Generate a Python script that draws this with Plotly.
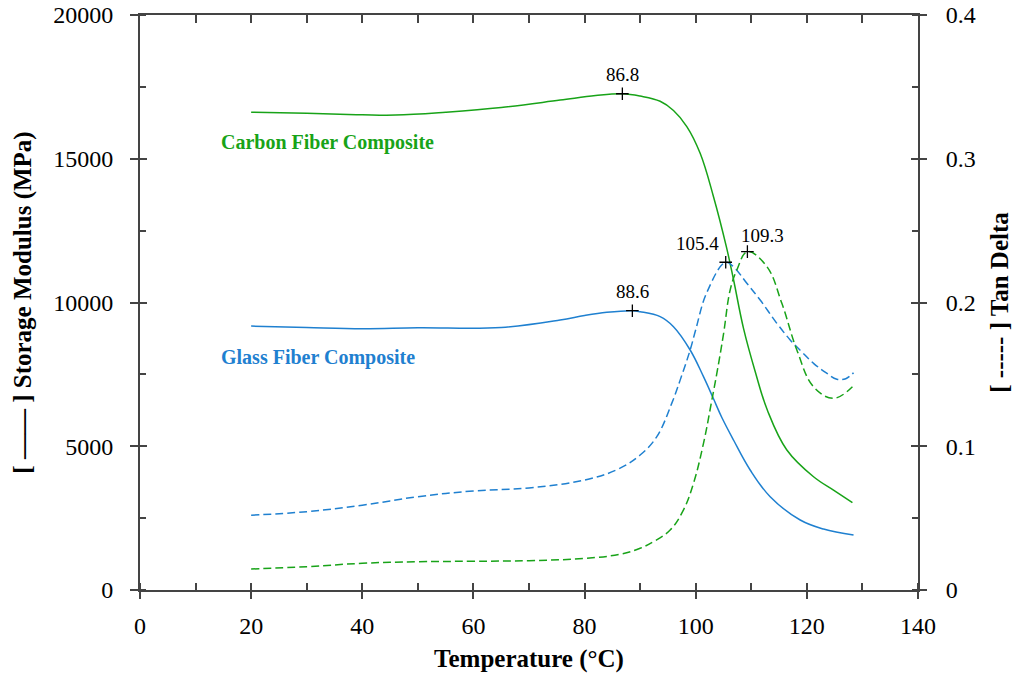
import plotly.graph_objects as go

# ---------------- data ----------------
T_cf_E = [20, 30, 40, 46, 55, 65, 75.6, 82, 86.8, 90, 93.6, 96, 98.4, 100.8, 103.2, 105.5, 106.8, 108.6, 110.7, 112.9, 116.4, 121.2, 125, 128.2]
E_cf = [16620, 16580, 16530, 16520, 16620, 16780, 17040, 17200, 17260, 17180, 17000, 16680, 16120, 15190, 13680, 11950, 10800, 9100, 7600, 6250, 4870, 3940, 3450, 3040]

T_gf_E = [20, 30, 40, 50, 65, 75.6, 80, 84, 88.6, 90, 93.6, 96, 99, 101.4, 103.2, 104.7, 106.8, 109.8, 113.4, 118.8, 123, 128.4]
E_gf = [9180, 9130, 9090, 9120, 9130, 9390, 9550, 9660, 9715, 9680, 9507, 9158, 8348, 7420, 6650, 6000, 5217, 4174, 3245, 2435, 2120, 1913]

T_gf_tan = [20, 30, 40, 50, 60, 70, 80, 86, 90, 93, 95.7, 97.2, 99, 100, 102, 105.4, 107, 109.2, 111.6, 114.6, 117, 119, 121.2, 123.5, 125.4, 127, 128.4]
tan_gf = [0.0520, 0.0545, 0.0590, 0.0649, 0.0689, 0.0710, 0.0765, 0.0840, 0.0939, 0.1067, 0.1300, 0.1460, 0.1670, 0.1810, 0.2070, 0.2280, 0.2240, 0.2134, 0.2017, 0.1855, 0.1740, 0.1660, 0.1577, 0.1510, 0.1466, 0.1470, 0.1512]

T_cf_tan = [20, 30, 40, 50, 60, 70, 80, 86.3, 90, 92.4, 95.4, 97.8, 99.6, 101.4, 102.9, 103.8, 105, 106.2, 107.4, 109.3, 112.8, 115.5, 118.2, 121.2, 124.8, 128.2]
tan_cf = [0.0146, 0.0162, 0.0186, 0.0197, 0.0200, 0.0204, 0.0220, 0.0248, 0.0290, 0.0336, 0.0417, 0.0557, 0.0742, 0.1020, 0.1320, 0.1507, 0.1780, 0.2087, 0.2226, 0.2354, 0.2250, 0.1994, 0.1670, 0.1414, 0.1333, 0.1414]

peak_E_T = [86.8, 88.6]
peak_E_val = [17260, 9715]
peak_tan_T = [105.4, 109.3]
peak_tan_val = [0.2280, 0.2354]
peak_E_labels = ["86.8", "88.6"]
peak_tan_labels = ["105.4", "109.3"]

x_ticks = [0, 20, 40, 60, 80, 100, 120, 140]
y_ticks = [0, 5000, 10000, 15000, 20000]
y_ticktext = ["0", "5000", "10000", "15000", "20000"]
y2_ticks = [0, 0.1, 0.2, 0.3, 0.4]
y2_ticktext = ["0", "0.1", "0.2", "0.3", "0.4"]

GREEN = "#18a318"
BLUE = "#1f80d0"
AX = "#444444"
FONT = "Liberation Serif"

fig = go.Figure()

def line(x, y, color, yaxis, dash=None):
    ln = dict(color=color, width=1.5, shape="spline", smoothing=1.1)
    if dash:
        ln["dash"] = dash
    return go.Scatter(x=x, y=y, mode="lines", line=ln, yaxis=yaxis, showlegend=False, hoverinfo="skip")

fig.add_trace(line(T_cf_E, E_cf, GREEN, "y"))
fig.add_trace(line(T_gf_E, E_gf, BLUE, "y"))
fig.add_trace(line(T_gf_tan, tan_gf, BLUE, "y2", "8px,4px"))
fig.add_trace(line(T_cf_tan, tan_cf, GREEN, "y2", "8px,4px"))

# invisible copies so that the tick-only overlay axes get drawn
fig.add_trace(go.Scatter(x=T_cf_E, y=E_cf, xaxis="x3", yaxis="y3", mode="lines", opacity=0,
                         line=dict(width=0), showlegend=False, hoverinfo="skip"))
fig.add_trace(go.Scatter(x=T_gf_tan, y=tan_gf, xaxis="x4", yaxis="y4", mode="lines", opacity=0,
                         line=dict(width=0), showlegend=False, hoverinfo="skip"))

# peak markers
fig.add_trace(go.Scatter(x=peak_E_T, y=peak_E_val, mode="markers",
                         marker=dict(symbol="cross-thin", size=9, line=dict(color="black", width=1.3)),
                         yaxis="y", showlegend=False, hoverinfo="skip"))
fig.add_trace(go.Scatter(x=peak_tan_T, y=peak_tan_val, mode="markers",
                         marker=dict(symbol="cross-thin", size=9, line=dict(color="black", width=1.3)),
                         yaxis="y2", showlegend=False, hoverinfo="skip"))

LBL = dict(family=FONT, size=19, color="black")
annotations = []
for t, v, lab in zip(peak_E_T, peak_E_val, peak_E_labels):
    annotations.append(dict(x=t, y=v, xref="x", yref="y", text=lab, showarrow=False, yshift=19, font=LBL))
annotations.append(dict(x=peak_tan_T[0], y=peak_tan_val[0], xref="x", yref="y2", text=peak_tan_labels[0], showarrow=False,
                        xanchor="right", xshift=-5, yshift=19, font=LBL))
annotations.append(dict(x=peak_tan_T[1], y=peak_tan_val[1], xref="x", yref="y2", text=peak_tan_labels[1], showarrow=False,
                        xanchor="left", xshift=-8, yshift=16, font=LBL))
annotations.append(dict(x=14.2, y=15550, xref="x", yref="y", text="<b>Carbon Fiber Composite</b>", showarrow=False,
                        xanchor="left", font=dict(family=FONT, size=20, color=GREEN)))
annotations.append(dict(x=14.2, y=8100, xref="x", yref="y", text="<b>Glass Fiber Composite</b>", showarrow=False,
                        xanchor="left", font=dict(family=FONT, size=20, color=BLUE)))

tickfont = dict(family=FONT, size=24, color="black")
titlefont = dict(family=FONT, size=25, color="black")

def overlay(**kw):
    d = dict(tickwidth=1.5, tickcolor=AX, showticklabels=False, showgrid=False, zeroline=False, automargin=False)
    d.update(kw)
    return d

fig.update_layout(
    width=1019, height=675,
    margin=dict(l=140, r=101, t=15, b=85),
    paper_bgcolor="white", plot_bgcolor="white",
    annotations=annotations,
    xaxis=dict(range=[0, 140], tickvals=x_ticks, ticks="outside", ticklen=7, tickwidth=1.5, tickcolor=AX,
               minor=dict(ticks="inside", dtick=10, tick0=0, ticklen=7, tickwidth=1.5, tickcolor=AX),
               showline=True, linecolor=AX, linewidth=2, showgrid=False, zeroline=False, automargin=False,
               tickfont=tickfont, ticklabelstandoff=6, ticklabeloverflow="allow",
               title=dict(text="<b>Temperature (°C)</b>", font=titlefont, standoff=12)),
    xaxis3=overlay(overlaying="x", anchor="y3", side="bottom", range=[0, 140], tickvals=x_ticks, ticks="inside",
                   ticklen=7, showline=False),
    xaxis4=overlay(overlaying="x", anchor="y4", side="top", range=[0, 140], dtick=10, tick0=0, ticks="inside",
                   ticklen=8, showline=True, linecolor=AX, linewidth=2),
    yaxis=dict(range=[0, 20000], tickvals=y_ticks, ticktext=y_ticktext, ticks="outside", ticklen=8, tickwidth=1.5, tickcolor=AX,
               minor=dict(ticks="inside", dtick=2500, tick0=0, ticklen=6, tickwidth=1.5, tickcolor=AX),
               showline=True, linecolor=AX, linewidth=2, showgrid=False, zeroline=False, automargin=False,
               tickfont=tickfont, ticklabelstandoff=12, ticklabeloverflow="allow",
               title=dict(text="<b>[ —— ] Storage Modulus (MPa)</b>", font=titlefont, standoff=14)),
    yaxis3=overlay(overlaying="y", anchor="x3", side="left", range=[0, 20000], tickvals=y_ticks, ticks="inside",
                   ticklen=7, showline=False),
    yaxis2=dict(overlaying="y", anchor="x", side="right", range=[0, 0.4], tickvals=y2_ticks, ticktext=y2_ticktext,
                ticks="outside", ticklen=7, tickwidth=1.5, tickcolor=AX,
                minor=dict(ticks="inside", dtick=0.05, tick0=0, ticklen=6, tickwidth=1.5, tickcolor=AX),
                showline=True, linecolor=AX, linewidth=2, showgrid=False, zeroline=False, automargin=False,
                tickfont=tickfont, ticklabelstandoff=14, ticklabeloverflow="allow",
                title=dict(text="<b>[ ----- ] Tan Delta</b>", font=titlefont, standoff=16)),
    yaxis4=overlay(overlaying="y", anchor="x4", side="right", range=[0, 0.4], tickvals=y2_ticks, ticks="inside",
                   ticklen=7, showline=False),
)

# remove the browser's default 8px body margin so the figure fills the window exactly
fig.write_html("out.html", config={"displayModeBar": False},
               post_script="document.body.style.margin='0';")
